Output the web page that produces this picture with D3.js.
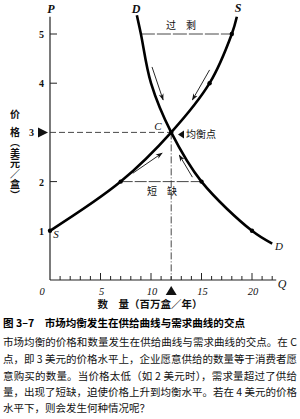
<!DOCTYPE html>
<html><head><meta charset="utf-8">
<script src="https://cdn.jsdelivr.net/npm/d3@7"></script>
<style>
html,body{margin:0;padding:0;background:#fff;}
svg{display:block;}
</style></head>
<body>
<svg id="c" width="300" height="419"></svg>
<script>
// ---- data ----
const demandQ = [8.6, 9, 10, 12, 15, 20, 22];
const demandP = [5.38, 5, 4, 3, 2, 1, 0.74];
const supplyQ = [0, 7, 12, 15.8, 18, 18.5];
const supplyP = [1, 2, 3, 4, 5, 5.35];
const supplyDotsQ = [0, 7, 15.8, 18];
const supplyDotsP = [1, 2, 4, 5];
const demandDotsQ = [15, 20];
const demandDotsP = [2, 1];
const eqQ = 12, eqP = 3;
const surplusP = 5, surplusQ = [9, 18];
const shortageP = 2, shortageQ = [7, 15];
const xTickLabels = [0, 5, 10, 15, 20];
const yTickValues = [5, 4, 2];
const yTickLabels = ["5", "4", "3", "2", "1"];
const yLabelValues = [5, 4, 3, 2, 1];
// arrows: [q0, p0, q1, p1]
const arrowsData = [
  [10.1, 4.33, 11.2, 3.66],
  [15.8, 4.27, 14.1, 3.66],
  [8.2, 2.17, 11.1, 2.58],
  [14.1, 2.09, 12.8, 2.54]
];
const yTitleParts = ["价", "格（美元／盒）"];
const captionTitle = "图 3–7　市场均衡发生在供给曲线与需求曲线的交点";
const captionLines = [
  "市场均衡的价格和数量发生在供给曲线与需求曲线的交点。在 C",
  "点，即 3 美元的价格水平上，企业愿意供给的数量等于消费者愿",
  "意购买的数量。当价格太低（如 2 美元时），需求量超过了供给",
  "量，出现了短缺，迫使价格上升到均衡水平。若在 4 美元的价格",
  "水平下，则会发生何种情况呢？"
];

// ---- scales ----
const x = d3.scaleLinear().domain([0, 20]).range([50, 252]);
const y = d3.scaleLinear().domain([0, 5]).range([280, 34]);
const svg = d3.select("#c");
const serif = "'Liberation Serif','DejaVu Serif',serif";
const cjk = "'Noto Sans CJK SC','Noto Sans CJK JP',sans-serif";

svg.append("defs").append("marker")
  .attr("id", "ah").attr("viewBox", "0 0 10 10").attr("refX", 9).attr("refY", 5)
  .attr("markerWidth", 7).attr("markerHeight", 7).attr("markerUnits", "userSpaceOnUse")
  .attr("orient", "auto")
  .append("path").attr("d", "M0,1.5 L10,5 L0,8.5 L3,5 Z").attr("fill", "#111");

// axes
svg.append("line").attr("x1", x(0)).attr("x2", x(0)).attr("y1", y(0)).attr("y2", y(5.35))
  .attr("stroke", "#222").attr("stroke-width", 1.2);
svg.append("line").attr("x1", x(0)).attr("x2", x(22.4)).attr("y1", y(0)).attr("y2", y(0))
  .attr("stroke", "#222").attr("stroke-width", 1.2);

// x ticks (minor per unit, pointing up)
const xt = d3.range(1, 23);
svg.selectAll(".xt").data(xt).enter().append("line")
  .attr("x1", d => x(d)).attr("x2", d => x(d))
  .attr("y1", y(0)).attr("y2", d => y(0) - (d % 5 === 0 ? 7 : 4))
  .attr("stroke", "#222").attr("stroke-width", 1);
svg.selectAll(".xl").data(xTickLabels).enter().append("text")
  .attr("x", d => d === 0 ? x(0) - 8 : x(d) + 1).attr("y", 295)
  .attr("text-anchor", "middle").attr("font-family", serif).attr("font-style", "italic")
  .attr("font-size", 10.5).attr("fill", "#111").text(d => d);

// y ticks
svg.selectAll(".yt").data(yTickValues).enter().append("line")
  .attr("x1", x(0)).attr("x2", x(0) + 7).attr("y1", d => y(d)).attr("y2", d => y(d))
  .attr("stroke", "#222").attr("stroke-width", 1);
svg.selectAll(".yl").data(yLabelValues).enter().append("text")
  .attr("x", d => d === 3 ? 34 : 44).attr("y", d => y(d) + 4)
  .attr("text-anchor", "end").attr("font-family", serif).attr("font-weight", "bold")
  .attr("font-size", 10).attr("fill", "#111").text((d, i) => yTickLabels[i]);

// triangles
svg.append("path").attr("d", `M${x(0) - 12},${y(eqP) - 5} L${x(0) - 2},${y(eqP)} L${x(0) - 12},${y(eqP) + 5} Z`).attr("fill", "#111");
svg.append("path").attr("d", `M${x(eqQ)},${y(0) + 6} L${x(eqQ) + 5.5},${y(0) + 15} L${x(eqQ) - 5.5},${y(0) + 15} Z`).attr("fill", "#111");

// dashed guides
const dash = "6,3";
svg.append("line").attr("x1", x(0)).attr("x2", x(eqQ)).attr("y1", y(eqP)).attr("y2", y(eqP))
  .attr("stroke", "#333").attr("stroke-width", 0.9).attr("stroke-dasharray", dash);
svg.append("line").attr("x1", x(eqQ)).attr("x2", x(eqQ)).attr("y1", y(eqP)).attr("y2", y(0))
  .attr("stroke", "#333").attr("stroke-width", 0.9).attr("stroke-dasharray", "7,2,1,2");
svg.append("line").attr("x1", x(surplusQ[0])).attr("x2", x(surplusQ[1])).attr("y1", y(surplusP)).attr("y2", y(surplusP))
  .attr("stroke", "#333").attr("stroke-width", 0.9).attr("stroke-dasharray", "14,2");
svg.append("line").attr("x1", x(shortageQ[0])).attr("x2", x(shortageQ[1])).attr("y1", y(shortageP)).attr("y2", y(shortageP))
  .attr("stroke", "#333").attr("stroke-width", 0.9).attr("stroke-dasharray", "12,2");

// curves
const line = d3.line().x(d => x(d[0])).y(d => y(d[1])).curve(d3.curveCatmullRom.alpha(0.5));
svg.append("path").datum(demandQ.map((q, i) => [q, demandP[i]])).attr("d", line)
  .attr("fill", "none").attr("stroke", "#000").attr("stroke-width", 2.6);
svg.append("path").datum(supplyQ.map((q, i) => [q, supplyP[i]])).attr("d", line)
  .attr("fill", "none").attr("stroke", "#000").attr("stroke-width", 2.6);

// dots
const dots = supplyDotsQ.map((q, i) => [q, supplyDotsP[i]])
  .concat(demandDotsQ.map((q, i) => [q, demandDotsP[i]])).concat([[eqQ, eqP]]);
svg.selectAll(".dot").data(dots).enter().append("circle")
  .attr("cx", d => x(d[0])).attr("cy", d => y(d[1])).attr("r", 2.2).attr("fill", "#000");

// arrows
svg.selectAll(".ar").data(arrowsData).enter().append("line")
  .attr("x1", d => x(d[0])).attr("y1", d => y(d[1])).attr("x2", d => x(d[2])).attr("y2", d => y(d[3]))
  .attr("stroke", "#111").attr("stroke-width", 0.9).attr("marker-end", "url(#ah)");

// labels
function lab(t, xx, yy, opts = {}) {
  return svg.append("text").attr("x", xx).attr("y", yy)
    .attr("font-family", opts.f || serif).attr("font-style", opts.it ? "italic" : "normal")
    .attr("font-weight", opts.b ? "bold" : "normal")
    .attr("font-size", opts.s || 11).attr("text-anchor", opts.a || "middle").attr("fill", "#111").text(t);
}
lab("P", x(0) + 1, 13, {it: true, b: true, s: 12});
lab("D", 136, 13, {it: true, b: true, s: 12});
lab("S", 238, 12, {it: true, b: true, s: 12});
lab("S", 56, 238, {it: true, s: 11});
lab("D", 279, 250, {it: true, s: 11});
lab("Q", 282, 288, {it: true, s: 12});
lab("C", 158, 130, {it: true, s: 11});
lab("过　剩", 181, 29, {f: cjk, s: 10});
lab("短　缺", 162, 195, {f: cjk, s: 10});
svg.append("path").attr("d", `M${178},${y(eqP) + 2} L${184},${y(eqP) - 2} L${184},${y(eqP) + 6} Z`).attr("fill", "#111");
lab("均衡点", 186, y(eqP) + 6, {f: cjk, s: 10, a: "start"});
lab("数　量（百万盒／年）", 150, 308, {f: cjk, s: 10.5, b: true});

// y title (vertical)
svg.append("text").attr("x", 15).attr("y", 109)
  .attr("writing-mode", "vertical-rl").attr("font-family", cjk).attr("font-size", 10)
  .attr("font-weight", "bold").attr("fill", "#111").text(yTitleParts[0]);
svg.append("text").attr("x", 15).attr("y", 127)
  .attr("writing-mode", "vertical-rl").attr("font-family", cjk).attr("font-size", 10)
  .attr("letter-spacing", 0.5)
  .attr("font-weight", "bold").attr("fill", "#111").text(yTitleParts[1]);

// caption
svg.append("text").attr("x", 3).attr("y", 327).attr("font-family", cjk).attr("font-weight", "bold")
  .attr("font-size", 10.5).attr("fill", "#000").attr("textLength", 242).attr("lengthAdjust", "spacingAndGlyphs")
  .text(captionTitle);
const capY = [346, 363, 380, 396, 412];
captionLines.forEach((t, i) => {
  const tx = svg.append("text").attr("x", 3).attr("y", capY[i]).attr("font-family", cjk)
    .attr("font-size", 10.5).attr("fill", "#111").text(t);
  if (i < captionLines.length - 1) tx.attr("textLength", 294).attr("lengthAdjust", "spacing");
});
</script>
</body></html>
